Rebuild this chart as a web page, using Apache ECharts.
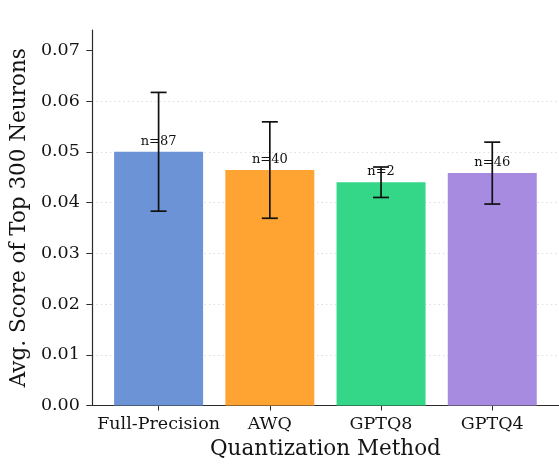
<!DOCTYPE html>
<html>
<head>
<meta charset="utf-8">
<script src="https://cdn.jsdelivr.net/npm/echarts@6/dist/echarts.min.js"></script>
<style>
  html, body { margin: 0; padding: 0; background: #fff; overflow: hidden; }
  #chart { width: 559px; height: 466px; }
</style>
</head>
<body>
<div id="chart"></div>
<script>
// Quantization methods compared
const categories = ['Full-Precision', 'AWQ', 'GPTQ8', 'GPTQ4'];
// Mean score of the top 300 neurons per method
const means = [0.0500, 0.0464, 0.0440, 0.0458];
// Half-width of each error bar
const errors = [0.0117, 0.0095, 0.0030, 0.0061];
// Sample counts shown above the bars
const counts = [87, 40, 2, 46];
// Y axis tick values
const yTicks = [0, 0.01, 0.02, 0.03, 0.04, 0.05, 0.06, 0.07];

const barColors = ['#6b93d6', '#ffa333', '#34d687', '#a78be0'];
const FONT = '"DejaVu Serif", serif';
const TEXT = '#141414';
const xIdx = categories.map((_, i) => i);

const barData = categories.map((_, i) => [i, means[i], counts[i]]);
const errData = categories.map((_, i) => [i, means[i] - errors[i], means[i] + errors[i]]);

const chart = echarts.init(document.getElementById('chart'), null, { renderer: 'canvas' });

chart.setOption({
  animation: false,
  backgroundColor: '#ffffff',
  grid: { left: 89.5, right: -3, top: 30, bottom: 60.5, containLabel: false },
  xAxis: {
    type: 'value',
    min: -0.6,
    max: 3.6,
    name: 'Quantization Method',
    nameLocation: 'middle',
    nameGap: 33,
    nameTextStyle: { fontFamily: FONT, fontSize: 21.5, color: TEXT },
    axisLine: { show: true, onZero: false, lineStyle: { color: '#2b2b2b', width: 1.2 } },
    axisTick: { show: true, customValues: xIdx, length: 5, lineStyle: { color: '#2b2b2b', width: 1 } },
    axisLabel: {
      customValues: xIdx,
      formatter: v => categories[Math.round(v)] || '',
      fontFamily: FONT, fontSize: 17.5, color: TEXT, margin: 10
    },
    splitLine: { show: false }
  },
  yAxis: {
    type: 'value',
    min: 0,
    max: 0.074,
    interval: 0.01,
    name: 'Avg. Score of Top 300 Neurons',
    nameLocation: 'middle',
    nameGap: 61,
    nameTextStyle: { fontFamily: FONT, fontSize: 21.5, color: TEXT },
    axisLine: { show: true, onZero: false, lineStyle: { color: '#2b2b2b', width: 1.2 } },
    axisTick: { show: true, customValues: yTicks, length: 5.5, lineStyle: { color: '#2b2b2b', width: 1 } },
    axisLabel: {
      customValues: yTicks,
      formatter: v => v.toFixed(2),
      fontFamily: FONT, fontSize: 17.5, color: TEXT, margin: 12
    },
    splitLine: {
      show: true,
      showMinLine: false,
      showMaxLine: false,
      lineStyle: { color: '#dedede', type: [1.5, 3], width: 1 }
    }
  },
  series: [
    {
      // bars, 0.8 units wide around each category position
      type: 'custom',
      z: 2,
      data: barData,
      encode: { x: 0, y: 1 },
      renderItem: function (params, api) {
        const x = api.value(0);
        const y = api.value(1);
        const tl = api.coord([x - 0.4, y]);
        const br = api.coord([x + 0.4, 0]);
        return {
          type: 'group',
          children: [
            {
              type: 'rect',
              shape: { x: tl[0], y: tl[1], width: br[0] - tl[0], height: br[1] - tl[1] },
              style: { fill: barColors[params.dataIndex] }
            },
            {
              type: 'text',
              x: (tl[0] + br[0]) / 2,
              y: tl[1] - 4,
              style: {
                text: 'n=' + api.value(2),
                font: '13px ' + FONT,
                fill: '#111',
                align: 'center',
                verticalAlign: 'bottom'
              }
            }
          ]
        };
      }
    },
    {
      // error bars with caps
      type: 'custom',
      z: 3,
      data: errData,
      encode: { x: 0, y: [1, 2] },
      renderItem: function (params, api) {
        const x = api.value(0);
        const lo = api.coord([x, api.value(1)]);
        const hi = api.coord([x, api.value(2)]);
        const cap = 8;
        const st = { stroke: '#111', lineWidth: 1.7 };
        return {
          type: 'group',
          children: [
            { type: 'line', shape: { x1: lo[0], y1: lo[1], x2: hi[0], y2: hi[1] }, style: st },
            { type: 'line', shape: { x1: lo[0] - cap, y1: lo[1], x2: lo[0] + cap, y2: lo[1] }, style: st },
            { type: 'line', shape: { x1: hi[0] - cap, y1: hi[1], x2: hi[0] + cap, y2: hi[1] }, style: st }
          ]
        };
      }
    }
  ]
});
</script>
</body>
</html>
